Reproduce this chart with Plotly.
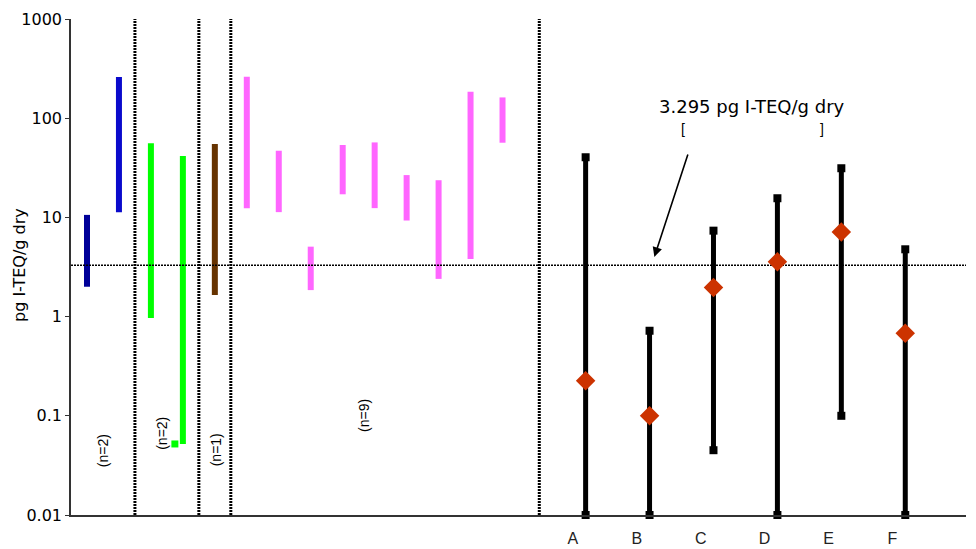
import math
import plotly.graph_objects as go

# ---------------- data ----------------
threshold = 3.295

blue_low = [2.0, 11.3]
blue_high = [10.6, 260]
green_low = [0.97, 0.052]
green_high = [56, 41.5]
brown_low = [1.65]
brown_high = [55]
pink_low = [12.4, 11.3, 1.85, 17.1, 12.4, 9.3, 2.4, 3.8, 56.6]
pink_high = [262, 47, 5.07, 53.7, 57, 26.7, 23.7, 185, 162]

site_labels = ["A", "B", "C", "D", "E", "F"]
site_min = [0.01, 0.01, 0.045, 0.01, 0.1, 0.01]
site_max = [40.4, 0.72, 7.35, 15.6, 31.3, 4.77]
site_mean = [0.226, 0.1, 1.97, 3.57, 7.13, 0.68]

y_ticks = [0.01, 0.1, 1, 10, 100, 1000]
y_tick_text = ["0.01", "0.1", "1", "10", "100", "1000"]

# ---------------- styling ----------------
groups = [
    (blue_low, blue_high, ["#000099", "#0A0ACC"]),
    (green_low, green_high, ["#00FF00", "#00FF00"]),
    (brown_low, brown_high, ["#663300"]),
    (pink_low, pink_high, ["#FF66FF"] * 9),
]
n_label_y = [0.045, 0.066, 0.045, 0.10]
n_label_dx = [0.0, -0.15, 0.04, -0.33]

FONT = "Liberation Sans, Arial, sans-serif"
WIDE = "DejaVu Sans, sans-serif"
fig = go.Figure()

pos = 0.5
boundaries = []
group_centers = []
for gi, (lows, highs, cols) in enumerate(groups):
    start = pos
    for lo, hi, c in zip(lows, highs, cols):
        fig.add_trace(go.Scatter(x=[pos, pos], y=[lo, hi], mode="lines",
                                 line=dict(color=c, width=6), showlegend=False,
                                 hoverinfo="skip"))
        pos += 1
    group_centers.append((start + pos - 1) / 2)
    boundaries.append(pos - 0.5)

# small foot on second green bar
fig.add_trace(go.Scatter(x=[3.5 - 0.25], y=[green_low[1]], mode="markers",
                         marker=dict(symbol="square", size=7, color="#00FF00"),
                         showlegend=False, hoverinfo="skip"))

right_start = 16.1
site_pos = [right_start + 2 * j for j in range(len(site_labels))]
boundaries[-1] = (boundaries[-1] - 0.5 + right_start) / 2 - 0.15

x_max = 28

# threshold line
fig.add_trace(go.Scatter(x=[0, x_max], y=[threshold, threshold], mode="lines",
                         line=dict(color="black", width=1.3, dash="2px,1px"),
                         showlegend=False, hoverinfo="skip"))
# divider lines
for b in boundaries:
    fig.add_trace(go.Scatter(x=[b, b], y=[y_ticks[0], y_ticks[-1]], mode="lines",
                             line=dict(color="black", width=3, dash="2px,1px"),
                             showlegend=False, hoverinfo="skip", cliponaxis=False))

# site ranges
for p, lo, hi, m in zip(site_pos, site_min, site_max, site_mean):
    fig.add_trace(go.Scatter(x=[p, p], y=[lo, hi], mode="lines+markers",
                             line=dict(color="black", width=5),
                             marker=dict(symbol="square", size=8, color="black"),
                             showlegend=False, hoverinfo="skip", cliponaxis=False))
fig.add_trace(go.Scatter(x=site_pos, y=site_mean, mode="markers",
                         marker=dict(symbol="diamond", size=15, color="#CC3300"),
                         showlegend=False, hoverinfo="skip", cliponaxis=False))

annotations = []
for gi, (lows, highs, cols) in enumerate(groups):
    annotations.append(dict(x=group_centers[gi] + n_label_dx[gi], y=math.log10(n_label_y[gi]),
                            xref="x", yref="y", text=f"(n={len(lows)})", showarrow=False,
                            textangle=-90, font=dict(family=FONT, size=14, color="black")))

annotations.append(dict(x=21.3, y=math.log10(130), xref="x", yref="y",
                        text=f"{threshold} pg I-TEQ/g dry", showarrow=False,
                        font=dict(family=WIDE, size=18, color="black")))
annotations.append(dict(x=19.15, y=1.89, xref="x", yref="y", text="[", showarrow=False,
                        font=dict(family=FONT, size=14, color="black")))
annotations.append(dict(x=23.5, y=1.89, xref="x", yref="y", text="]", showarrow=False,
                        font=dict(family=FONT, size=14, color="black")))
annotations.append(dict(x=18.25, y=math.log10(4.0), xref="x", yref="y", ax=34, ay=-104,
                        text="", showarrow=True, arrowhead=2, arrowsize=1.2, arrowwidth=1.6,
                        arrowcolor="black", standoff=0))
annotations.append(dict(x=0, y=0.504, xref="paper", yref="paper", xshift=-52,
                        xanchor="center", yanchor="middle",
                        text="pg I-TEQ/g dry", showarrow=False, textangle=-90,
                        font=dict(family=WIDE, size=16, color="black")))

fig.update_layout(
    width=968, height=541,
    margin=dict(l=63, r=10, t=11, b=34),
    paper_bgcolor="white", plot_bgcolor="white",
    annotations=annotations,
    xaxis=dict(range=[0, x_max], showgrid=False, zeroline=False, showline=True,
               automargin=False,
               linecolor="#333333", linewidth=1.5,
               tickvals=[p - 0.4 for p in site_pos], ticktext=site_labels, ticks="",
               ticklabelstandoff=8,
               tickfont=dict(family=FONT, size=16, color="#222222")),
    yaxis=dict(type="log", range=[-2, 3], showgrid=False, zeroline=False, showline=True,
               automargin=False,
               linecolor="#333333", linewidth=1.5, ticks="outside", ticklen=4,
               tickcolor="#333333",
               tickvals=y_ticks, ticktext=y_tick_text,
               tickfont=dict(family=WIDE, size=16, color="black")),
)

fig.write_html("out.html")
